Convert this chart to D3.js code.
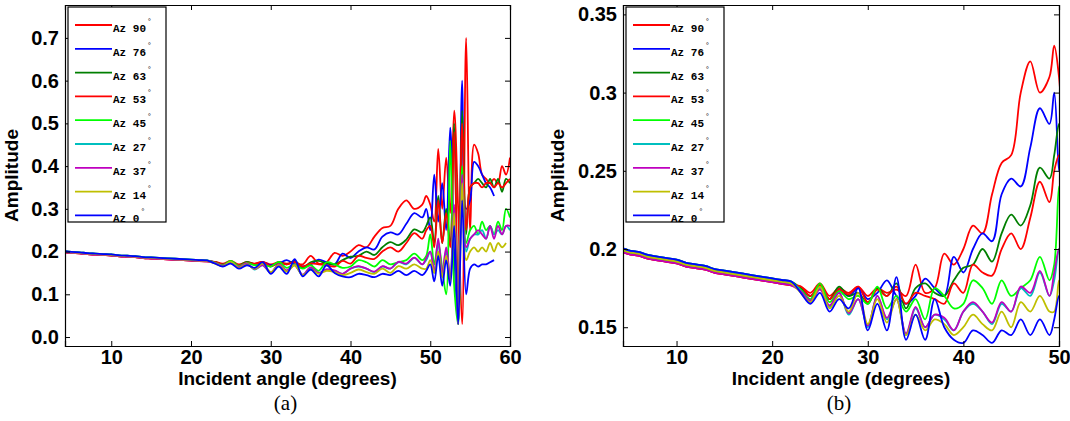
<!DOCTYPE html>
<html><head><meta charset="utf-8">
<script src="https://cdn.jsdelivr.net/npm/d3@7"></script>
<style>
body{margin:0;background:#fff;}
text{font-family:"Liberation Sans",Arial,sans-serif;}
</style></head>
<body><svg id="c" width="1070" height="421"></svg>
<script>
// incident angles, 1 deg steps then 0.5 deg steps
const angles = [4,5,6,7,8,9,10,11,12,13,14,15,16,17,18,19,20,21,22,23,24,25,26,27,28,29,30,31,32,33,34,35,36,37,38,39,40,41,42,43,44,45,46,47,48,49,
  49.5,50,50.5,51,51.5,52,52.5,53,53.5,54,54.5,55,55.5,56,56.5,57,57.5,58,58.5,59,59.5,60];
const head = [0.200,0.198,0.197,0.195,0.194,0.193,0.192,0.190,0.189,0.188,0.186,0.185,0.184,0.183,0.182,0.181,0.180,0.179,0.178];
const labels = ["Az 90","Az 76","Az 63","Az 53","Az 45","Az 27","Az 37","Az 14","Az 0"];
const colors = ["#ff0000","#0000ff","#007f00","#ff0000","#00ff00","#00bfbf","#bf00bf","#bfbf00","#0000ff"];
const az90 = [0.176,0.172,0.178,0.17,0.175,0.172,0.176,0.17,0.175,0.172,0.174,0.17,0.19,0.172,0.175,0.197,0.19,0.2,0.215,0.21,0.235,0.255,0.26,0.3,0.32,0.3,0.31,
  0.33,0.31,0.27,0.44,0.3,0.42,0.29,0.53,0.3,0.03,0.7,0.25,0.45,0.43,0.38,0.37,0.36,0.37,0.36,0.4,0.38,0.42];
const az76 = [0.175,0.17,0.176,0.168,0.174,0.17,0.175,0.168,0.172,0.18,0.17,0.165,0.17,0.181,0.175,0.17,0.195,0.185,0.2,0.21,0.205,0.235,0.245,0.24,0.265,0.29,0.28,
  0.3,0.25,0.38,0.27,0.36,0.25,0.49,0.2,0.03,0.6,0.3,0.32,0.41,0.4,0.38,0.36,0.35,0.33,null,null,null,null];
const az63 = [0.175,0.17,0.175,0.168,0.176,0.17,0.172,0.165,0.175,0.17,0.178,0.162,0.175,0.178,0.172,0.17,0.18,0.188,0.19,0.2,0.192,0.21,0.222,0.215,0.228,0.252,0.245,
  0.26,0.28,0.22,0.33,0.22,0.3,0.22,0.5,0.03,0.53,0.24,0.35,0.36,0.37,0.36,0.35,0.37,0.35,0.37,0.34,0.37,0.36];
const az53 = [0.176,0.17,0.177,0.168,0.174,0.171,0.176,0.166,0.174,0.17,0.176,0.165,0.172,0.17,0.168,0.165,0.178,0.172,0.19,0.185,0.183,0.2,0.21,0.2,0.22,0.243,0.23,
  0.25,0.26,0.21,0.32,0.22,0.29,0.21,0.48,0.03,0.5,0.25,0.35,0.36,0.36,0.35,0.36,0.36,0.35,0.36,0.35,0.36,0.37];
const az45 = [0.174,0.168,0.178,0.166,0.173,0.168,0.17,0.165,0.176,0.162,0.17,0.16,0.168,0.155,0.175,0.17,0.162,0.165,0.18,0.175,0.165,0.18,0.17,0.175,0.18,0.195,0.18,
  0.19,0.24,0.17,0.22,0.16,0.1,0.46,0.12,0.03,0.4,0.22,0.25,0.26,0.24,0.27,0.25,0.26,0.24,0.27,0.25,0.3,0.28];
const az27 = [0.173,0.166,0.175,0.163,0.172,0.158,0.168,0.15,0.17,0.155,0.168,0.145,0.162,0.15,0.158,0.155,0.148,0.16,0.165,0.16,0.152,0.165,0.16,0.175,0.17,0.185,0.17,
  0.18,0.2,0.15,0.22,0.15,0.2,0.14,0.3,0.03,0.38,0.2,0.23,0.24,0.24,0.25,0.23,0.26,0.24,0.25,0.24,0.26,0.25];
const az37 = [0.173,0.167,0.174,0.164,0.172,0.159,0.168,0.151,0.17,0.156,0.168,0.146,0.163,0.15,0.158,0.156,0.148,0.16,0.166,0.16,0.153,0.166,0.16,0.176,0.172,0.186,0.17,
  0.185,0.2,0.155,0.23,0.15,0.21,0.14,0.31,0.03,0.38,0.21,0.23,0.24,0.25,0.24,0.23,0.26,0.23,0.26,0.24,0.26,0.26];
const az14 = [0.172,0.166,0.176,0.162,0.17,0.16,0.172,0.152,0.168,0.153,0.168,0.145,0.158,0.148,0.155,0.152,0.145,0.15,0.158,0.152,0.148,0.16,0.15,0.166,0.16,0.17,0.16,
  0.16,0.18,0.15,0.2,0.14,0.19,0.13,0.29,0.03,0.36,0.18,0.2,0.21,0.2,0.21,0.2,0.22,0.2,0.22,0.21,0.22,null];
const az0 = [0.172,0.165,0.172,0.16,0.168,0.162,0.175,0.148,0.165,0.148,0.182,0.142,0.158,0.142,0.168,0.15,0.142,0.14,0.148,0.145,0.14,0.148,0.145,0.155,0.145,0.155,0.145,
  0.155,0.17,0.13,0.19,0.12,0.18,0.12,0.26,0.03,0.32,0.1,0.16,0.17,0.165,0.17,0.17,0.175,0.18,null,null,null,null];
const seriesVals = [az90,az76,az63,az53,az45,az27,az37,az14,az0];
const ticksA_x = [10,20,30,40,50,60], ticksA_y = [0,0.1,0.2,0.3,0.4,0.5,0.6,0.7];
const ticksB_x = [10,20,30,40,50], ticksB_y = [0.15,0.2,0.25,0.3,0.35];

const svg = d3.select("#c");

function panel(id, box, xd, yd, xt, yt, yfmt, cap, ylabOff) {
  const x = d3.scaleLinear().domain(xd).range([box.l, box.r]);
  const y = d3.scaleLinear().domain(yd).range([box.b, box.t]);
  const g = svg.append("g");
  g.append("clipPath").attr("id", id).append("rect")
    .attr("x", box.l).attr("y", box.t).attr("width", box.r - box.l).attr("height", box.b - box.t);
  const line = d3.line().defined(d => d[1] != null).x(d => x(d[0])).y(d => y(d[1])).curve(d3.curveCatmullRom);
  const lines = g.append("g").attr("clip-path", `url(#${id})`);
  seriesVals.forEach((v, i) => {
    const pts = angles.map((a, k) => [a, k < head.length ? head[k] + (i % 3 - 1) * 0.0012 : v[k - head.length]]);
    lines.append("path").attr("d", line(pts)).attr("fill", "none")
      .attr("stroke", colors[i]).attr("stroke-width", 1.8);
  });
  const fnt = g => g.selectAll("text").attr("font-size", 20).attr("font-weight", "bold").attr("fill", "#000");
  g.append("g").attr("transform", `translate(0,${box.b})`)
    .call(d3.axisBottom(x).tickValues(xt).tickSize(-5).tickPadding(4)).call(fnt);
  g.append("g").attr("transform", `translate(0,${box.t})`)
    .call(d3.axisTop(x).tickValues(xt).tickSize(-5).tickFormat(""));
  g.append("g").attr("transform", `translate(${box.l},0)`)
    .call(d3.axisLeft(y).tickValues(yt).tickSize(-5).tickPadding(6).tickFormat(yfmt)).call(fnt);
  g.append("g").attr("transform", `translate(${box.r},0)`)
    .call(d3.axisRight(y).tickValues(yt).tickSize(-5).tickFormat(""));
  g.selectAll(".domain").attr("stroke", "#000").attr("stroke-width", 1.2);
  g.selectAll(".tick line").attr("stroke", "#000");
  g.append("text").attr("x", (box.l + box.r) / 2).attr("y", box.b + 39).attr("text-anchor", "middle")
    .attr("font-size", 19).attr("font-weight", "bold").text("Incident angle (degrees)");
  g.append("text").attr("transform", `translate(${box.l - ylabOff},${(box.t + box.b) / 2}) rotate(-90)`)
    .attr("text-anchor", "middle").attr("font-size", 19).attr("font-weight", "bold").text("Amplitude");
  g.append("text").attr("x", (box.l + box.r) / 2 - 2).attr("y", box.b + 64).attr("text-anchor", "middle")
    .attr("font-size", 21).style("font-family", "'Liberation Serif',serif").text(cap);
  // legend
  const lg = g.append("g").attr("transform", `translate(${box.l + 3},${box.t + 2})`);
  lg.append("rect").attr("width", 98).attr("height", 215).attr("fill", "#fff").attr("stroke", "#000").attr("stroke-width", 1.2);
  labels.forEach((s, i) => {
    const yy = 18 + i * 23.8;
    lg.append("line").attr("x1", 7).attr("x2", 44).attr("y1", yy).attr("y2", yy)
      .attr("stroke", colors[i]).attr("stroke-width", 1.8);
    const t = lg.append("text").attr("x", 45).attr("y", yy + 7).attr("font-size", 11).attr("font-weight", "bold")
      .style("font-family", "'Liberation Mono',monospace");
    t.append("tspan").text(s);
    t.append("tspan").attr("dy", -8).attr("dx", 1).attr("font-size", 8).attr("font-weight", "normal").text("°");
  });
}

panel("ca", {l: 65, r: 510, t: 5, b: 346}, [4.2, 60], [-0.021, 0.777], ticksA_x, ticksA_y, d3.format(".1f"), "(a)", 47);
panel("cb", {l: 623, r: 1059, t: 5, b: 346}, [4.4, 50], [0.138, 0.356], ticksB_x, ticksB_y, d => d === 0.2 || d === 0.3 ? d3.format(".1f")(d) : d3.format(".2f")(d), "(b)", 59);
</script></body></html>
